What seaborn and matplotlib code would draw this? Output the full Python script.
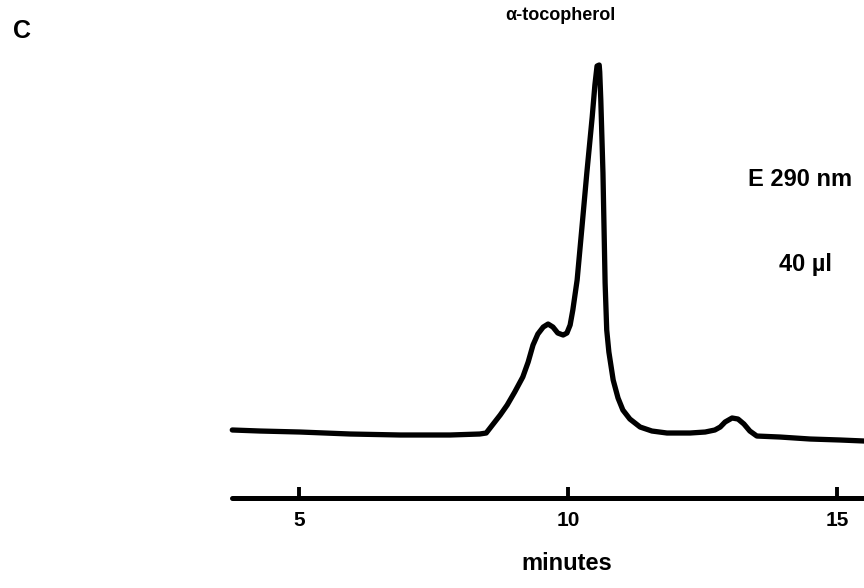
import numpy as np
import pandas as pd
import matplotlib
matplotlib.use("Agg")
import matplotlib.pyplot as plt
import seaborn as sns

# HPLC trace (retention time in minutes, detector signal in arbitrary units)
time_min = [3.76, 4.28, 5.02, 5.95, 6.88, 7.81, 8.36, 8.48, 8.61, 8.74,
            8.87, 9.01, 9.16, 9.26, 9.35, 9.44, 9.54, 9.63, 9.72, 9.81,
            9.91, 9.98, 10.04, 10.09, 10.17, 10.26, 10.35, 10.45, 10.50, 10.54,
            10.58, 10.59, 10.61, 10.65, 10.69, 10.72, 10.76, 10.84, 10.93, 11.02,
            11.15, 11.34, 11.56, 11.84, 12.27, 12.55, 12.73, 12.83, 12.92, 13.05,
            13.16, 13.27, 13.38, 13.51, 13.94, 14.50, 15.06, 15.50]
signal = [0.82, 0.54, 0.27, -0.27, -0.54, -0.54, -0.27, 0.0, 2.45, 4.89,
          7.61, 11.14, 15.22, 19.29, 23.91, 26.90, 28.80, 29.62, 28.80, 27.17,
          26.63, 27.17, 29.35, 33.42, 41.58, 55.98, 70.65, 85.87, 94.57, 99.73,
          100.0, 98.10, 90.49, 70.65, 40.76, 27.99, 22.01, 14.40, 9.51, 6.25,
          3.80, 1.63, 0.54, 0.0, 0.0, 0.27, 0.82, 1.63, 2.99, 4.08,
          3.80, 2.45, 0.54, -0.82, -1.09, -1.63, -1.90, -2.17]

tick_values = [5, 10, 15]
tick_labels = ["5", "10", "15"]

peak_label = "α-tocopherol"
detector_label = "E 290 nm"
volume_label = "40 µl"
panel_label = "C"
x_label = "minutes"

df = pd.DataFrame({"time": time_min, "signal": signal})

sns.set_style("white")
plt.rcParams["font.family"] = ["Liberation Sans", "DejaVu Sans"]
plt.rcParams["font.weight"] = "bold"
plt.rcParams["text.color"] = "black"
plt.rcParams["xtick.color"] = "black"

W, H = 864, 588
fig = plt.figure(figsize=(W / 100, H / 100), dpi=100)
ax = fig.add_axes([232 / W, (H - 498) / H, 1 - 232 / W, (498 - 40) / H])

sns.lineplot(data=df, x="time", y="signal", sort=False, estimator=None,
             color="black", linewidth=3.8, ax=ax)
for ln in ax.lines:
    ln.set_solid_joinstyle("round")
    ln.set_solid_capstyle("round")
    ln.set_clip_on(False)

ax.set_xlim(3.755, 15.502)
ax.set_ylim(-17.66, 106.8)

for s in ["top", "right", "left"]:
    ax.spines[s].set_visible(False)
ax.spines["bottom"].set_linewidth(3.6)
ax.spines["bottom"].set_color("black")
ax.spines["bottom"].set_capstyle("round")

ax.set_xticks(tick_values)
ax.set_xticklabels(tick_labels, fontsize=15, fontweight="bold")
ax.tick_params(axis="x", bottom=True, direction="in", length=8, width=2.8,
               pad=9, color="black", labelcolor="black")
ax.set_yticks([])
ax.set_xlabel("")
ax.set_ylabel("")

def ftext(px, py, s, **kw):
    fig.text(px / W, 1 - py / H, s, ha="center", va="center",
             fontweight="bold", color="black", **kw)

ftext(22, 31, panel_label, fontsize=18)
ftext(560, 15, peak_label, fontsize=13)
ftext(800, 180, detector_label, fontsize=17)
ftext(805, 265, volume_label, fontsize=17)
ftext(567, 563, x_label, fontsize=17)

fig.savefig("out.png", dpi=100)
